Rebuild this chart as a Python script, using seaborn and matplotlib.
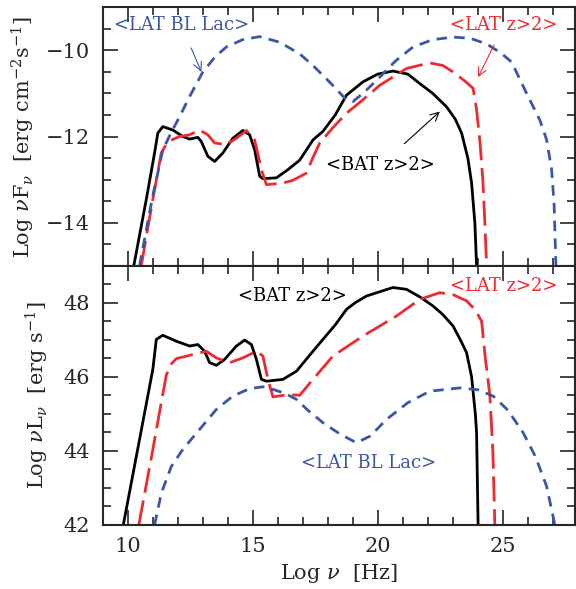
import seaborn as sns, numpy as np, pandas as pd, matplotlib as mpl, matplotlib.pyplot as plt
from matplotlib.ticker import MultipleLocator

mpl.use('Agg')

# ---- top panel: Log nuF_nu ----
bat_top_x = [10.25, 10.75, 11.08, 11.21, 11.41, 11.81, 12.21, 12.48, 12.81, 12.95, 13.21, 13.48, 13.81, 14.21, 14.61,
             14.88, 15.08, 15.28, 15.41, 15.95, 16.41, 16.88, 17.41, 17.81, 18.3, 18.75, 19.41, 20.0, 20.61, 21.2,
             21.68, 22.2, 22.75, 23.1, 23.35, 23.6, 23.75, 23.88, 23.95]
bat_top_y = [-15, -13.46, -12.38, -11.92, -11.77, -11.85, -12.0, -12.06, -12.02, -12.12, -12.46, -12.58, -12.38,
             -12.04, -11.86, -11.96, -12.31, -12.92, -12.98, -12.96, -12.77, -12.55, -12.08, -11.88, -11.5, -11.04,
             -10.73, -10.55, -10.48, -10.55, -10.77, -11.0, -11.31, -11.6, -11.92, -12.5, -13.08, -14.0, -15]

latz_top_x = [10.55, 11.01, 11.35, 11.61, 12.08, 12.48, 12.88, 13.21, 13.48, 13.95, 14.35, 14.75, 15.08, 15.35,
              15.55, 16.21, 16.6, 17.15, 17.4, 17.68, 18.2, 18.75, 19.4, 20.08, 21.15, 22.08, 22.6, 23.01, 23.5,
              23.81, 23.95, 24.08, 24.2, 24.28, 24.35]
latz_top_y = [-15, -13.46, -12.38, -12.12, -12.0, -11.96, -11.85, -11.96, -12.15, -12.19, -12.04, -11.86, -12.08,
              -12.77, -13.12, -13.08, -13.02, -12.85, -12.5, -12.15, -11.8, -11.46, -11.15, -10.81, -10.42, -10.29,
              -10.35, -10.5, -10.72, -10.88, -11.38, -12.1, -13.0, -14.0, -15]

bll_top_x = [10.48, 11.0, 11.41, 11.75, 12.08, 12.5, 13.01, 13.5, 13.95, 14.6, 15.28, 16.08, 16.88, 17.41, 18.1,
             18.75, 19.01, 19.5, 20.08, 20.7, 21.41, 22.2, 23.01, 23.7, 24.35, 24.9, 25.35, 25.95, 26.48, 26.75,
             26.95, 27.05, 27.12]
bll_top_y = [-15, -13.4, -12.31, -11.9, -11.54, -11.05, -10.5, -10.15, -9.92, -9.75, -9.68, -9.81, -10.08, -10.35,
             -10.75, -11.15, -11.19, -10.95, -10.62, -10.25, -9.92, -9.75, -9.69, -9.72, -9.85, -10.05, -10.27,
             -11.0, -11.62, -12.08, -12.77, -13.6, -15]

# ---- bottom panel: Log nuL_nu ----
bat_bot_x = [9.83, 10.48, 11.01, 11.15, 11.41, 11.95, 12.48, 12.81, 13.08, 13.28, 13.55, 13.88, 14.35, 14.68, 14.95,
             15.15, 15.35, 15.55, 16.21, 16.75, 17.3, 17.81, 18.3, 18.75, 19.1, 19.55, 20.1, 20.61, 21.15, 21.7,
             22.21, 22.6, 23.01, 23.3, 23.55, 23.75, 23.9, 23.95, 24.01]
bat_bot_y = [42, 44.31, 46.2, 47.01, 47.12, 46.96, 46.83, 46.87, 46.69, 46.38, 46.31, 46.47, 46.83, 46.99, 46.87,
             46.47, 45.93, 45.88, 45.93, 46.15, 46.6, 47.01, 47.4, 47.82, 48.0, 48.18, 48.3, 48.41, 48.36, 48.15,
             47.91, 47.68, 47.37, 47.0, 46.65, 46.0, 45.0, 44.49, 42]

latz_bot_x = [10.45, 11.0, 11.4, 11.55, 11.75, 11.95, 12.61, 13.15, 13.55, 14.08, 14.61, 15.15, 15.41, 15.61, 15.81,
              16.48, 16.88, 17.41, 18.21, 19.41, 20.75, 21.68, 22.48, 23.0, 23.55, 23.9, 24.15, 24.3, 24.48, 24.6,
              24.68]
latz_bot_y = [42, 44.0, 45.5, 46.05, 46.35, 46.49, 46.6, 46.69, 46.51, 46.38, 46.51, 46.69, 46.56, 45.93, 45.46,
              45.52, 45.5, 45.93, 46.56, 47.1, 47.64, 48.09, 48.27, 48.22, 48.05, 47.8, 47.5, 46.5, 45.5, 44.0, 42]

bll_bot_x = [11.08, 11.35, 11.75, 12.21, 12.88, 13.55, 14.21, 14.88, 15.41, 15.81, 16.3, 16.75, 17.2, 17.81, 18.5,
             19.15, 19.7, 20.35, 21.2, 22.08, 23.28, 24.0, 24.61, 25.2, 25.81, 26.3, 26.75, 27.08]
bll_bot_y = [42, 42.86, 43.58, 44.04, 44.58, 45.12, 45.48, 45.68, 45.73, 45.66, 45.55, 45.39, 45.1, 44.76, 44.45,
             44.22, 44.4, 44.85, 45.3, 45.61, 45.7, 45.65, 45.48, 45.1, 44.49, 43.85, 43.04, 42]

series = ['BAT z>2', 'LAT z>2', 'LAT BL Lac']
colors = {'BAT z>2': 'black', 'LAT z>2': '#ee2a2e', 'LAT BL Lac': '#3b56a6'}
dashes = {'BAT z>2': '', 'LAT z>2': (9, 2.8), 'LAT BL Lac': (3.8, 2.6)}


def long_df(xs, ys):
    parts = []
    for name, x, y in zip(series, xs, ys):
        parts.append(pd.DataFrame({'x': x, 'y': y, 'src': name}))
    return pd.concat(parts, ignore_index=True)


top = long_df([bat_top_x, latz_top_x, bll_top_x], [bat_top_y, latz_top_y, bll_top_y])
bot = long_df([bat_bot_x, latz_bot_x, bll_bot_x], [bat_bot_y, latz_bot_y, bll_bot_y])

sns.set_style('ticks')
plt.rcParams['font.family'] = ['DejaVu Serif']
plt.rcParams['mathtext.fontset'] = 'dejavuserif'

fig = plt.figure(figsize=(5.76, 5.89), dpi=100)
ax1 = fig.add_axes([0.178, 0.549, 0.821, 0.4385])
ax2 = fig.add_axes([0.178, 0.1087, 0.821, 0.4403])

for ax, d in [(ax1, top), (ax2, bot)]:
    sns.lineplot(data=d, x='x', y='y', hue='src', style='src', palette=colors, dashes=dashes,
                 hue_order=series, style_order=series, linewidth=2, errorbar=None, legend=False, ax=ax)
    ax.set_xlim(9, 27.9)
    ax.xaxis.set_major_locator(MultipleLocator(5))
    ax.xaxis.set_minor_locator(MultipleLocator(1))
    ax.yaxis.set_minor_locator(MultipleLocator(0.5))
    ax.tick_params(which='both', direction='in', top=True, right=True, width=1.2, labelsize=15, pad=9)
    ax.tick_params(which='major', length=10.5)
    ax.tick_params(which='minor', length=5.5)
    for s in ax.spines.values():
        s.set_linewidth(1.5)

ax1.set_ylim(-15, -9)
ax1.yaxis.set_major_locator(MultipleLocator(2))
ax1.tick_params(labelbottom=False)
ax1.set_xlabel('')
ax1.set_ylabel(r'Log $\nu$F$_\nu$  [erg cm$^{-2}$s$^{-1}$]', fontsize=15, labelpad=6)

ax2.set_ylim(42, 49)
ax2.yaxis.set_major_locator(MultipleLocator(2))
ax2.set_xlabel(r'Log $\nu$  [Hz]', fontsize=15, labelpad=4)
ax2.set_ylabel(r'Log $\nu$L$_\nu$  [erg s$^{-1}$]', fontsize=15, labelpad=9)

# annotations
ax1.annotate('<LAT BL Lac>', xy=(12.95, -10.5), xytext=(12.16, -9.42), ha='center', va='center',
             fontsize=13, color=colors['LAT BL Lac'],
             arrowprops=dict(arrowstyle='->', color=colors['LAT BL Lac'], lw=0.8, mutation_scale=15,
                             shrinkA=8, shrinkB=0))
ax1.annotate('<LAT z>2>', xy=(24.01, -10.62), xytext=(25.04, -9.42), ha='center', va='center',
             fontsize=13, color=colors['LAT z>2'],
             arrowprops=dict(arrowstyle='->', color=colors['LAT z>2'], lw=0.8, mutation_scale=15,
                             shrinkA=6, shrinkB=0))
ax1.annotate('<BAT z>2>', xy=(22.48, -11.42), xytext=(20.11, -12.67), ha='center', va='center',
             fontsize=13, color='black',
             arrowprops=dict(arrowstyle='->', color='black', lw=0.8, mutation_scale=15,
                             shrinkA=10, shrinkB=0))

ax2.text(16.57, 48.17, '<BAT z>2>', ha='center', va='center', fontsize=13, color='black')
ax2.text(25.04, 48.45, '<LAT z>2>', ha='center', va='center', fontsize=13, color=colors['LAT z>2'])
ax2.text(19.64, 43.66, '<LAT BL Lac>', ha='center', va='center', fontsize=13, color=colors['LAT BL Lac'])

fig.savefig('out.png', dpi=100)
